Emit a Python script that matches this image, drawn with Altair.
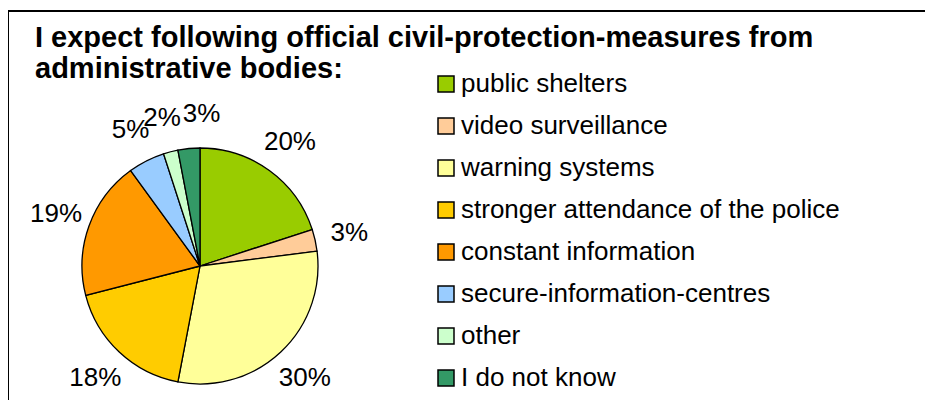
import altair as alt
import pandas as pd

categories = [
    "public shelters",
    "video surveillance",
    "warning systems",
    "stronger attendance of the police",
    "constant information",
    "secure-information-centres",
    "other",
    "I do not know",
]
values = [20, 3, 30, 18, 19, 5, 2, 3]
labels = ["20%", "3%", "30%", "18%", "19%", "5%", "2%", "3%"]
colors = ["#99CC00", "#FFCC99", "#FFFF99", "#FFCC00", "#FF9900", "#99CCFF", "#CCFFCC", "#339966"]
title_lines = [
    "I expect following official civil-protection-measures from",
    "administrative bodies:",
]

df = pd.DataFrame({
    "category": categories,
    "value": values,
    "label": labels,
    "idx": list(range(len(categories))),
})
frame_df = pd.DataFrame({"k": [0]})

FONT = "Liberation Sans"
CX, CY = 192, 255
W, H = 917, 389

base = alt.Chart(df).encode(
    theta=alt.Theta("value:Q", stack=True),
    order=alt.Order("idx:Q", sort="ascending"),
)

arcs = base.mark_arc(outerRadius=118, stroke="black", strokeWidth=1.3).encode(
    x=alt.value(CX),
    y=alt.value(CY),
    color=alt.Color(
        "category:N",
        scale=alt.Scale(domain=categories, range=colors),
        legend=alt.Legend(
            title=None,
            orient="none",
            legendX=425,
            legendY=60,
            symbolType="square",
            symbolSize=256,
            symbolStrokeColor="black",
            symbolStrokeWidth=1.5,
            symbolOpacity=1,
            labelFontSize=26,
            labelFont=FONT,
            labelColor="black",
            rowPadding=16,
            labelOffset=2,
            labelLimit=0,
        ),
    ),
)

last = "datum.idx == %d" % (len(categories) - 1)

texts = base.mark_text(radius=153, fontSize=26, font=FONT, color="black",
                       align="center", baseline="middle").encode(
    x=alt.value(CX),
    y=alt.value(CY),
    text=alt.condition(last, alt.value(""), alt.Text("label:N")),
)

texts_last = base.mark_text(radius=153, fontSize=26, font=FONT, color="black",
                            align="center", baseline="middle", dx=16, dy=0).encode(
    x=alt.value(CX),
    y=alt.value(CY),
    text=alt.condition(last, alt.Text("label:N"), alt.value("")),
)

top_rule = alt.Chart(frame_df).mark_rule(color="black", strokeWidth=2).encode(
    x=alt.value(0), x2=alt.value(W), y=alt.value(0)
)
left_rule = alt.Chart(frame_df).mark_rule(color="black", strokeWidth=2).encode(
    x=alt.value(0), y=alt.value(0), y2=alt.value(H)
)

chart = alt.layer(arcs, texts, texts_last, top_rule, left_rule).properties(
    width=W,
    height=H,
    padding={"top": 3, "left": 0, "right": 0, "bottom": 0},
    autosize=alt.AutoSizeParams(type="none"),
    title=alt.TitleParams(
        title_lines,
        anchor="start",
        frame="group",
        dx=27,
        dy=103,
        offset=0,
        baseline="bottom",
        fontSize=29,
        font=FONT,
        fontWeight="bold",
        color="black",
        lineHeight=31,
    ),
).configure_view(stroke=None)

chart.save("out.html", embed_options={"renderer": "svg", "actions": False})
